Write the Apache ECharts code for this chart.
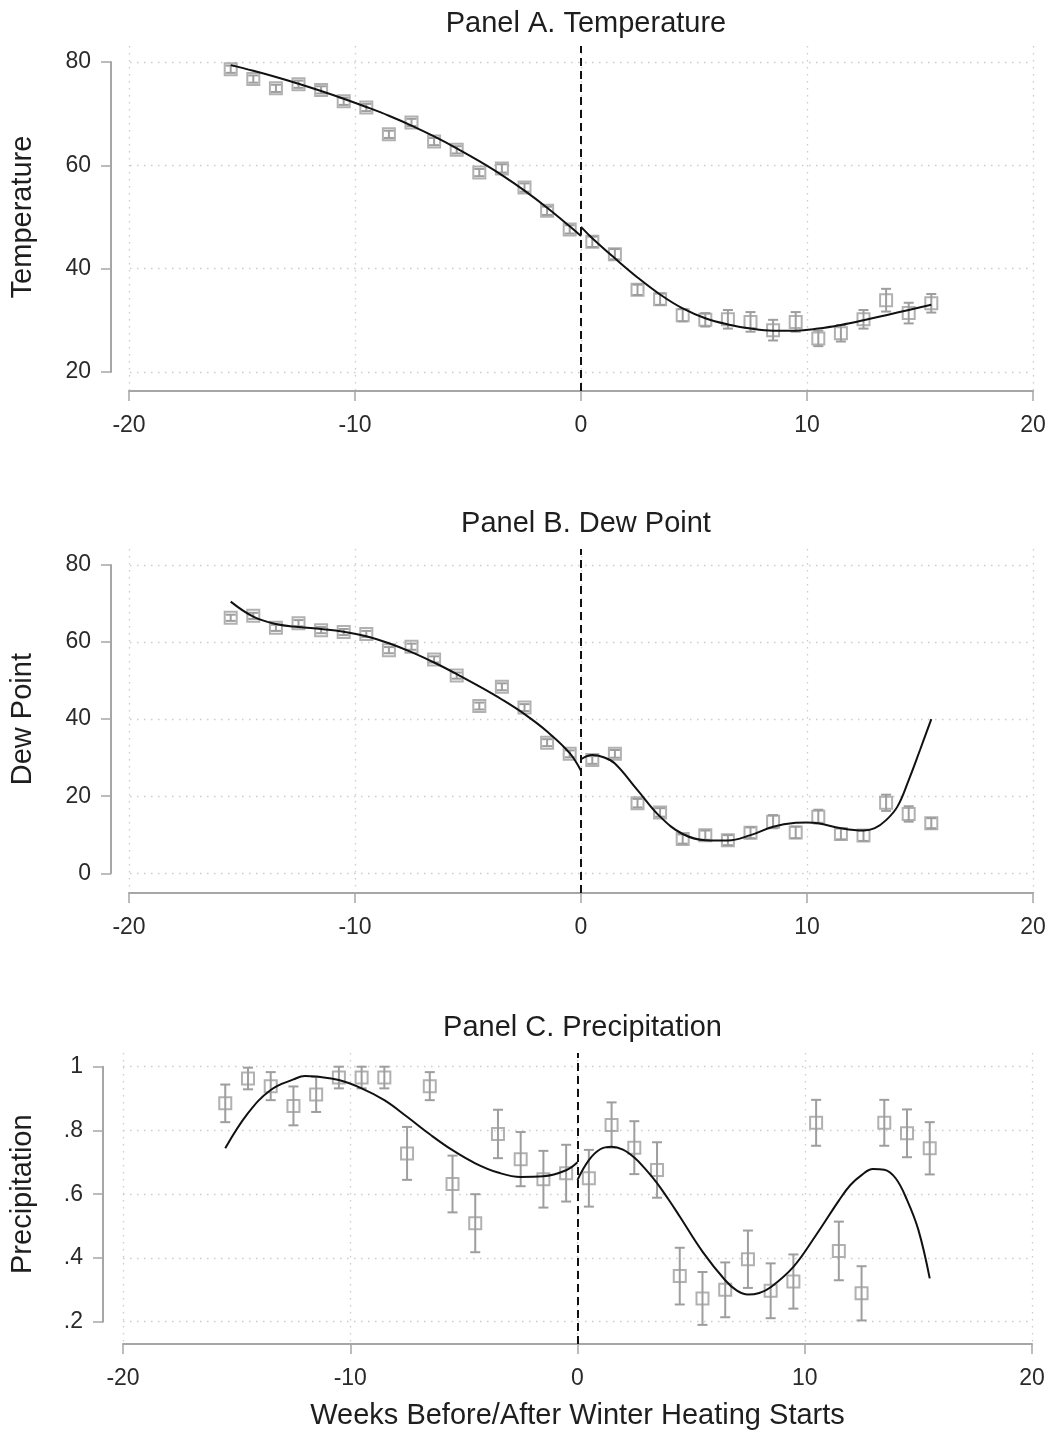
<!DOCTYPE html>
<html><head><meta charset="utf-8">
<script src="https://cdn.jsdelivr.net/npm/echarts@6/dist/echarts.min.js"></script>
<style>html,body{margin:0;padding:0;background:#fff}#chart{width:1052px;height:1432px}</style>
</head><body><div id="chart"></div>
<script>
// ---------------- DATA ----------------
const weeks = [-15.5,-14.5,-13.5,-12.5,-11.5,-10.5,-9.5,-8.5,-7.5,-6.5,-5.5,-4.5,-3.5,-2.5,-1.5,-0.5,
               0.5,1.5,2.5,3.5,4.5,5.5,6.5,7.5,8.5,9.5,10.5,11.5,12.5,13.5,14.5,15.5];
const heatingStart = 0;
const xTicks = [-20,-10,0,10,20];

const tempMean = [78.6,76.7,74.9,75.7,74.6,72.4,71.2,66.0,68.3,64.6,63.0,58.6,59.4,55.7,51.2,47.6,
                  45.2,42.8,35.9,34.1,31.0,30.1,30.2,29.7,28.1,29.7,26.5,27.5,30.2,33.9,31.4,33.3];
const tempCI   = [0.7,0.7,0.7,0.7,0.7,0.7,0.7,0.7,0.7,0.7,0.7,0.7,0.8,0.8,0.8,0.8,
                  1.0,1.0,1.0,1.1,1.2,1.3,1.8,1.9,2.0,1.9,1.5,1.6,1.8,2.2,2.0,1.8];
const tempFitLeftX  = [-15.5,-14.5,-13.5,-12.5,-11.5,-10.5,-9.5,-8.5,-7.5,-6.5,-5.5,-4.5,-3.5,-2.5,-1.5,-0.5,0];
const tempFitLeftY  = [79.4,78.3,77.1,75.8,74.4,72.9,71.3,69.6,67.7,65.6,63.3,60.8,58.1,55.1,51.8,48.2,46.3];
const tempFitRightX = [0,0.5,1.5,2.5,3.5,4.5,5.5,6.5,7.5,8.5,9.5,10.5,11.5,12.5,13.5,14.5,15.5];
const tempFitRightY = [48.1,45.9,42.0,38.3,35.0,32.3,30.4,29.2,28.4,28.0,28.0,28.4,29.1,30.0,31.0,32.0,33.0];
const tempTicks = [20,40,60,80];
const tempTickLabels = ['20','40','60','80'];

const dewMean = [66.3,66.8,63.7,64.9,63.1,62.6,62.1,57.9,58.8,55.5,51.3,43.4,48.4,43.0,33.9,31.0,
                 29.4,31.0,18.2,15.8,8.9,9.9,8.6,10.5,13.4,10.6,14.7,10.2,9.8,18.3,15.4,13.0];
const dewCI   = [0.8,0.8,0.8,0.8,0.8,0.8,0.8,0.8,0.8,0.8,0.8,0.9,0.9,0.9,0.9,0.9,
                 1.0,1.0,1.1,1.1,1.2,1.2,1.3,1.4,1.7,1.5,1.8,1.4,1.4,2.1,2.0,1.3];
const dewFitLeftX  = [-15.5,-14.5,-13.5,-12.5,-11.5,-10.5,-9.5,-8.5,-7.5,-6.5,-5.5,-4.5,-3.5,-2.5,-1.5,-0.5,0];
const dewFitLeftY  = [70.5,66.6,64.7,63.9,63.4,62.7,61.5,59.7,57.4,54.7,51.7,48.5,45.1,41.3,36.8,31.2,26.6];
const dewFitRightX = [0,0.5,1,1.5,2.5,3.5,4.5,5.5,6.5,7.5,8.5,9.5,10,10.5,11.5,12.5,13,13.5,14,14.5,15,15.5];
const dewFitRightY = [29.6,30.7,30.1,28.5,21.6,14.7,10.2,8.6,8.5,9.9,12.1,13.1,13.2,13.0,11.7,11.1,11.7,13.8,17.3,24.2,32.0,40.0];
const dewTicks = [0,20,40,60,80];
const dewTickLabels = ['0','20','40','60','80'];

const precipMean = [0.885,0.963,0.939,0.877,0.913,0.966,0.966,0.966,0.728,0.939,0.632,0.509,0.789,0.710,0.647,0.666,
                    0.650,0.817,0.746,0.676,0.343,0.273,0.300,0.396,0.297,0.326,0.824,0.422,0.289,0.824,0.791,0.744];
const precipCI   = [0.059,0.034,0.044,0.061,0.055,0.034,0.034,0.034,0.083,0.044,0.089,0.091,0.076,0.085,0.089,0.089,
                    0.089,0.071,0.083,0.087,0.089,0.083,0.086,0.090,0.086,0.085,0.072,0.092,0.085,0.072,0.075,0.082];
const precipFitLeftX  = [-15.5,-14.5,-13.5,-12.5,-12,-11.5,-10.5,-9.5,-8.5,-7.5,-6.5,-5.5,-4.5,-3.5,-2.5,-1.5,-0.5,0];
const precipFitLeftY  = [0.744,0.854,0.927,0.960,0.971,0.969,0.958,0.932,0.895,0.843,0.788,0.738,0.697,0.668,0.654,0.656,0.675,0.700];
const precipFitRightX = [0,0.5,1,1.5,2,2.5,3,3.5,4,4.5,5.5,6.5,7,7.5,8,8.5,9.5,10.5,11.5,12,12.5,13,13.5,14,14.5,15,15.5];
const precipFitRightY = [0.645,0.707,0.741,0.749,0.740,0.715,0.678,0.635,0.584,0.530,0.420,0.330,0.298,0.285,0.290,0.308,0.372,0.472,0.580,0.628,0.660,0.679,0.677,0.650,0.582,0.488,0.336];
const precipTicks = [0.2,0.4,0.6,0.8,1];
const precipTickLabels = ['.2','.4','.6','.8','1'];

const titles = ['Panel A. Temperature','Panel B. Dew Point','Panel C. Precipitation'];
const yNames = ['Temperature','Dew Point','Precipitation'];
const xName = 'Weeks Before/After Winter Heating Starts';

// ---------------- LAYOUT / STYLE ----------------
const W = 1052, H = 1432;
const FONT = '"Liberation Sans", Arial, sans-serif';
const AXIS_COL = '#a6a6a6', TEXT_COL = '#2a2a2a', MARK_COL = '#9e9e9e', GRID_COL = '#cccccc';
const layouts = [
  {left:129, right:1033, tickTop:62,   tickBottom:372,   plotTop:46,   axisY:391,  axisX:110, titleTop:4,    nameGap:74},
  {left:129, right:1033, tickTop:565,  tickBottom:873.3, plotTop:549,  axisY:893,  axisX:110, titleTop:504,  nameGap:74},
  {left:123, right:1032, tickTop:1066.7, tickBottom:1321.7, plotTop:1053, axisY:1344, axisX:103, titleTop:1008, nameGap:66}
];
const panelData = [
  {mean:tempMean, ci:tempCI, fl:[tempFitLeftX,tempFitLeftY], fr:[tempFitRightX,tempFitRightY], ticks:tempTicks, labels:tempTickLabels},
  {mean:dewMean, ci:dewCI, fl:[dewFitLeftX,dewFitLeftY], fr:[dewFitRightX,dewFitRightY], ticks:dewTicks, labels:dewTickLabels},
  {mean:precipMean, ci:precipCI, fl:[precipFitLeftX,precipFitLeftY], fr:[precipFitRightX,precipFitRightY], ticks:precipTicks, labels:precipTickLabels}
];

const option = {animation:false, backgroundColor:'#fff', title:[], grid:[], xAxis:[], yAxis:[], series:[]};
const dotted = {color:GRID_COL, width:1.3, type:[1.5,5.5]};

panelData.forEach((p, i) => {
  const L = layouts[i];
  const lo = p.ticks[0], hi = p.ticks[p.ticks.length-1];
  const step = p.ticks[1]-p.ticks[0];
  const s = (L.tickBottom - L.tickTop)/(hi - lo);
  const ymax = hi + (L.tickTop - L.plotTop)/s;
  const ymin = lo - (L.axisY - L.tickBottom)/s;
  const g = 2*i;
  option.title.push({text:titles[i], left:(L.left+L.right)/2, top:L.titleTop, textAlign:'center',
    textStyle:{fontFamily:FONT, fontSize:29, fontWeight:'normal', color:'#1e1e1e'}});
  option.grid.push({left:L.left, right:W-L.right, top:L.plotTop, bottom:H-L.axisY});
  option.grid.push({left:L.left, right:W-L.right, top:L.tickTop, bottom:H-L.tickBottom});
  option.xAxis.push({gridIndex:g, type:'value', min:xTicks[0], max:xTicks[xTicks.length-1], interval:xTicks[1]-xTicks[0],
    axisLine:{show:true, onZero:false, lineStyle:{color:AXIS_COL, width:2}},
    axisTick:{show:true, length:10, lineStyle:{color:AXIS_COL, width:1.5}},
    axisLabel:{margin:23, fontSize:23, color:TEXT_COL, fontFamily:FONT, formatter:v=>String(v)},
    splitLine:{show:true, lineStyle:dotted},
    name: i===2 ? xName : '', nameLocation:'middle', nameGap:57,
    nameTextStyle:{fontFamily:FONT, fontSize:29, color:'#1e1e1e'}});
  option.xAxis.push({gridIndex:g+1, type:'value', show:false, min:xTicks[0], max:xTicks[xTicks.length-1]});
  option.yAxis.push({gridIndex:g, type:'value', show:false, min:ymin, max:ymax});
  option.yAxis.push({gridIndex:g+1, type:'value', min:lo, max:hi, interval:step, offset:L.left-L.axisX,
    axisLine:{show:true, onZero:false, lineStyle:{color:AXIS_COL, width:2}},
    axisTick:{show:true, length:10, lineStyle:{color:AXIS_COL, width:1.5}},
    axisLabel:{margin:20, fontSize:23, color:TEXT_COL, fontFamily:FONT,
      formatter:v=>{let k=0,b=1e9;p.ticks.forEach((t,j)=>{const d=Math.abs(t-v);if(d<b){b=d;k=j;}});return p.labels[k];}},
    splitLine:{show:true, lineStyle:dotted},
    name:yNames[i], nameLocation:'middle', nameGap:L.nameGap,
    nameTextStyle:{fontFamily:FONT, fontSize:29, color:'#1e1e1e'}});

  // error bars
  option.series.push({type:'custom', xAxisIndex:g, yAxisIndex:g, z:2,
    data: weeks.map((w,k)=>[w, p.mean[k]-p.ci[k], p.mean[k]+p.ci[k]]),
    encode:{x:0, y:[1,2]},
    renderItem:(params, api)=>{
      const x = api.value(0);
      const a = api.coord([x, api.value(2)]), b = api.coord([x, api.value(1)]);
      const cw = 5, st = {stroke:MARK_COL, lineWidth:2};
      return {type:'group', children:[
        {type:'line', shape:{x1:a[0],y1:a[1],x2:b[0],y2:b[1]}, style:st},
        {type:'line', shape:{x1:a[0]-cw,y1:a[1],x2:a[0]+cw,y2:a[1]}, style:st},
        {type:'line', shape:{x1:b[0]-cw,y1:b[1],x2:b[0]+cw,y2:b[1]}, style:st}
      ]};
    }});
  // markers
  option.series.push({type:'scatter', xAxisIndex:g, yAxisIndex:g, z:3, symbol:'rect', symbolSize:12,
    data: weeks.map((w,k)=>[w, p.mean[k]]),
    itemStyle:{color:'rgba(255,255,255,0)', borderColor:MARK_COL, borderWidth:2},
    markLine:{silent:true, symbol:'none', label:{show:false},
      lineStyle:{color:'#111', width:2, type:[8,5]}, data:[{xAxis:heatingStart}]}});
  // fitted curves
  [p.fl, p.fr].forEach(f => {
    option.series.push({type:'line', xAxisIndex:g, yAxisIndex:g, z:4, showSymbol:false, smooth:0.4,
      data: f[0].map((x,k)=>[x, f[1][k]]),
      lineStyle:{color:'#111', width:2}});
  });
});

const chart = echarts.init(document.getElementById('chart'), null, {renderer:'canvas'});
chart.setOption(option);
</script>
</body></html>
